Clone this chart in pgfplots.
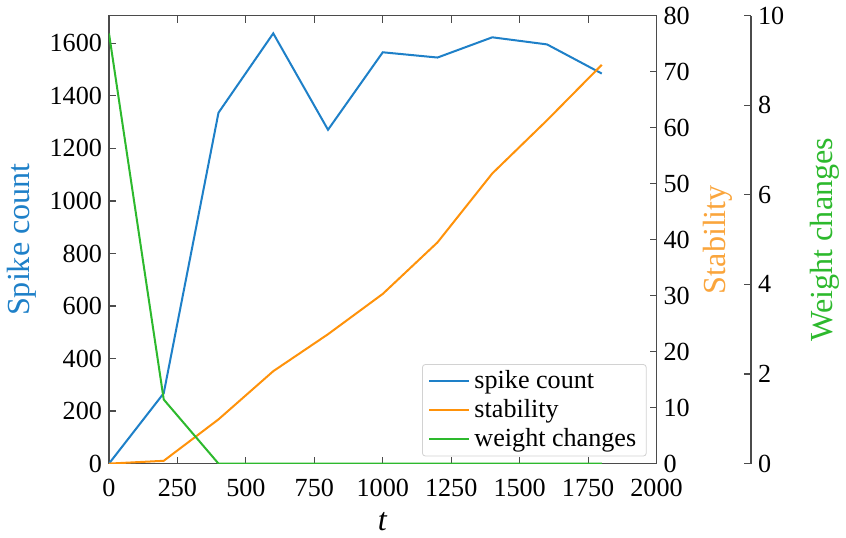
\documentclass[border=0pt]{standalone}
\usepackage{pgfplots}
\pgfplotsset{compat=1.18}
\usepackage{fontspec}
\setmainfont{Liberation Serif}
\definecolor{cblue}{RGB}{30,128,200}
\definecolor{corange}{RGB}{255,146,10}
\definecolor{corangelab}{RGB}{250,165,60}
\definecolor{cgreen}{RGB}{45,185,45}
\definecolor{axgray}{RGB}{75,75,75}
\begin{document}
\begin{tikzpicture}
\pgfplotsset{
  every axis/.append style={
    scale only axis, height=223pt, xmin=0, ymin=0,
    tick align=inside, major tick length=3.5pt,
    tick style={color=axgray, line width=0.6pt},
    axis line style={color=axgray, line width=0.8pt},
    /pgf/number format/assume math mode=true,
    /pgf/number format/1000 sep={},
    scaled ticks=false,
    tick label style={font=\fontsize{13}{15}\selectfont},
    label style={font=\fontsize{16}{18}\selectfont},
  },
}
% spike count (left axis)
\begin{axis}[
    width=272.5pt, xmax=2000, ymax=1706,
    xtick={0,250,...,2000}, ytick={0,200,...,1600},
    ytick pos=left,
    xticklabel style={yshift=-4pt},
    xlabel={\textit{t}}, xlabel style={yshift=-1pt},
    ylabel={Spike count}, ylabel style={color=cblue},
    legend style={at={(0.982,0.016)}, anchor=south east,
        draw=gray!35, rounded corners=1.5pt, fill=white,
        font=\fontsize{13}{15}\selectfont, row sep=0pt,
        inner xsep=3pt, inner ysep=1pt},
    legend cell align=left,
    legend image code/.code={\draw[#1] (0cm,0cm) -- (0.7cm,0cm);},
]
\addplot[cblue, line width=1pt] coordinates {
    (0,0) (200,268) (400,1336) (600,1638) (800,1271)
    (1000,1566) (1200,1546) (1400,1623) (1600,1596) (1800,1485)
};
\addlegendentry{spike count}
\addlegendimage{corange, line width=1pt}
\addlegendentry{stability}
\addlegendimage{cgreen, line width=1pt}
\addlegendentry{weight changes}
\end{axis}
% stability (first right axis)
\begin{axis}[
    width=272.5pt, xmax=2000, ymax=80,
    axis x line=none, axis y line*=right,
    ytick={0,10,...,80},
    ylabel={Stability}, ylabel style={color=corangelab},
]
\addplot[corange, line width=1pt] coordinates {
    (0,0) (200,0.5) (400,7.9) (600,16.5) (800,23.1)
    (1000,30.3) (1200,39.5) (1400,51.8) (1600,61.3) (1800,71.2)
};
\end{axis}
% weight changes (offset right axis)
\begin{axis}[
    width=319.5pt, xmax=2344.95, ymax=10,
    axis x line=none, axis y line*=right,
    ytick={0,2,...,10},
    ylabel={Weight changes}, ylabel style={color=cgreen},
    ylabel shift=6pt,
]
\addplot[cgreen, line width=1pt] coordinates {
    (0,9.6) (200,1.43) (400,0) (600,0) (800,0)
    (1000,0) (1200,0) (1400,0) (1600,0) (1800,0)
};
\end{axis}
\end{tikzpicture}
\end{document}
